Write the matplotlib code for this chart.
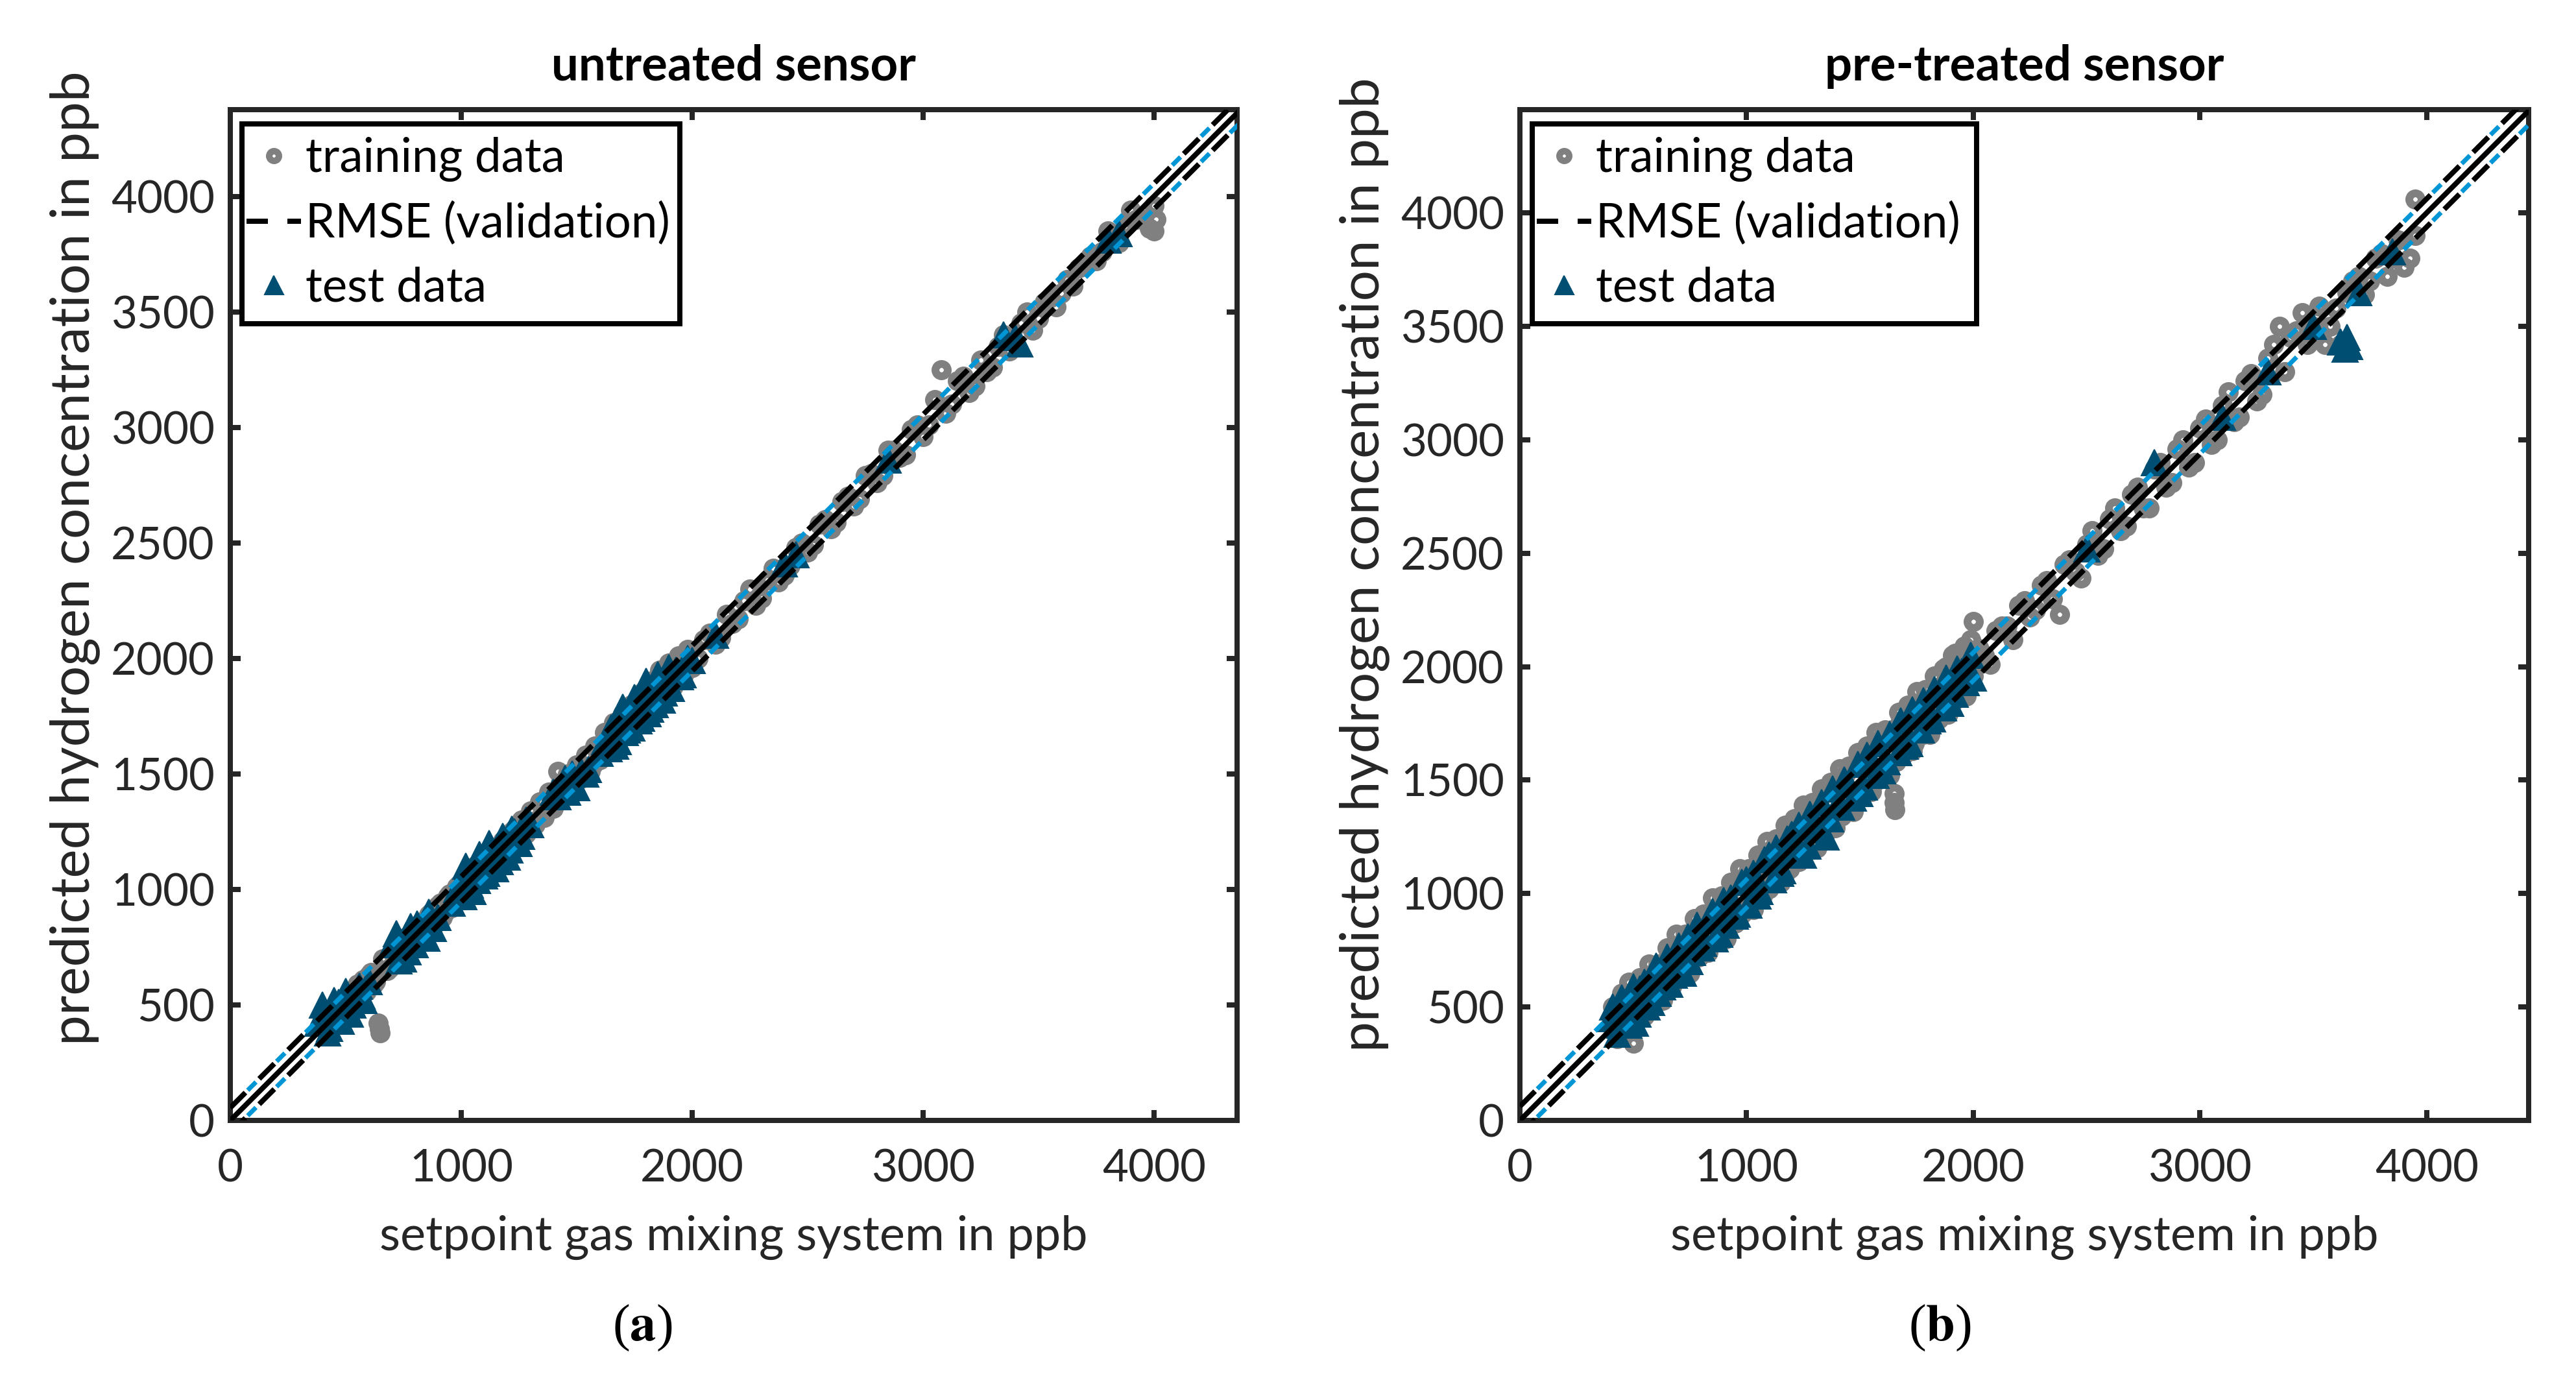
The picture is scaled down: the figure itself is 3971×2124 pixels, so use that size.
import matplotlib
matplotlib.use("Agg")
import matplotlib.pyplot as plt
from matplotlib.lines import Line2D
from matplotlib.patches import Rectangle

# ---------------- data ----------------
titles = ["untreated sensor", "pre-treated sensor"]
panel_tags = ["a", "b"]
xlabel_text = "setpoint gas mixing system in ppb"
ylabel_text = "predicted hydrogen concentration in ppb"
legend_labels = ["training data", "RMSE (validation)", "test data"]
xtick_vals = [0, 1000, 2000, 3000, 4000]
ytick_vals = [0, 500, 1000, 1500, 2000, 2500, 3000, 3500, 4000]
rmse_val = [55, 62]
x_max = [4360, 4450]
y_max = [4375, 4455]

# (a) untreated sensor
train_x_a = [400, 420, 440, 455, 470, 490, 505, 520, 540, 560,
             575, 590, 610, 630, 640, 645, 650, 660, 680, 700,
             720, 740, 760, 780, 800, 820, 840, 860, 880, 900,
             920, 940, 960, 980, 1000, 1020, 1040, 1060, 1080, 1100,
             1120, 1140, 1160, 1180, 1200, 1220, 1240, 1260, 1280, 1300,
             1320, 1340, 1360, 1380, 1400, 1420, 1440, 1460, 1480, 1500,
             1520, 1540, 1560, 1580, 1600, 1620, 1640, 1660, 1680, 1700,
             1720, 1740, 1760, 1780, 1800, 1820, 1840, 1860, 1880, 1900,
             1920, 1940, 1960, 1980, 2000, 2050, 2100, 2150, 2200, 2250,
             2300, 2350, 2400, 2450, 2500, 2550, 2600, 2650, 2700, 2750,
             2800, 2850, 2900, 2950, 3000, 3050, 3080, 3100, 3150, 3200,
             3250, 3300, 3350, 3400, 3450, 3500, 3550, 3600, 3700, 3750,
             3800, 3850, 3900, 3950, 3980, 4000, 4000, 4010]
train_y_a = [430, 390, 470, 420, 500, 460, 540, 480, 560, 520,
             610, 560, 640, 600, 420, 395, 380, 700, 650, 730,
             690, 770, 730, 810, 760, 850, 800, 890, 840, 930,
             880, 970, 920, 1010, 960, 1060, 1000, 1100, 1040, 1140,
             1080, 1180, 1130, 1210, 1160, 1250, 1190, 1300, 1240, 1340,
             1280, 1380, 1310, 1420, 1350, 1510, 1400, 1500, 1430, 1540,
             1480, 1580, 1510, 1620, 1560, 1680, 1600, 1720, 1640, 1760,
             1680, 1800, 1720, 1850, 1760, 1900, 1790, 1950, 1840, 1980,
             1880, 2010, 1920, 2040, 1960, 2080, 2060, 2190, 2170, 2300,
             2260, 2390, 2360, 2480, 2460, 2580, 2560, 2680, 2660, 2790,
             2760, 2900, 2870, 2990, 2960, 3120, 3250, 3060, 3200, 3150,
             3290, 3260, 3400, 3360, 3500, 3470, 3560, 3580, 3700, 3720,
             3850, 3800, 3940, 3900, 3860, 3960, 3850, 3900]
train_x_a2 = [410, 430, 450, 480, 500, 530, 550, 570, 600, 620,
              670, 690, 710, 730, 750, 770, 790, 810, 830, 850,
              870, 890, 910, 930, 950, 970, 990, 1010, 1030, 1050,
              1070, 1090, 1110, 1130, 1150, 1170, 1190, 1210, 1230, 1250,
              1270, 1290, 1310, 1330, 1350, 1370, 1390, 1410, 1430, 1450,
              1470, 1490, 1510, 1530, 1550, 1570, 1590, 1610, 1630, 1650,
              1670, 1690, 1710, 1730, 1750, 1770, 1790, 1810, 1830, 1850,
              1870, 1890, 1910, 1930, 1950, 1970, 1990,
              2025, 2075, 2125, 2175, 2225, 2275, 2325, 2375, 2425, 2475,
              2525, 2575, 2625, 2675, 2725, 2775, 2825, 2875, 2925, 2975,
              3025, 3125, 3175, 3225, 3275, 3325, 3375, 3425, 3475, 3525,
              3575, 3625, 3650, 3675, 3725, 3775, 3825, 3875, 3925]
train_y_a2 = [450, 400, 490, 460, 530, 500, 590, 540, 630, 590,
              700, 660, 740, 700, 790, 740, 820, 780, 860, 820,
              900, 860, 940, 900, 980, 940, 1020, 980, 1060, 1020,
              1100, 1060, 1140, 1100, 1180, 1140, 1220, 1180, 1260, 1220,
              1300, 1260, 1340, 1300, 1380, 1340, 1420, 1380, 1460, 1420,
              1500, 1460, 1540, 1500, 1580, 1540, 1620, 1580, 1660, 1620,
              1700, 1660, 1740, 1700, 1790, 1740, 1830, 1780, 1870, 1820,
              1910, 1860, 1950, 1900, 1990, 1940, 2030,
              2000, 2110, 2090, 2150, 2250, 2230, 2340, 2330, 2400, 2500,
              2490, 2600, 2590, 2700, 2690, 2800, 2790, 2900, 2880, 3010,
              3010, 3100, 3220, 3180, 3240, 3350, 3330, 3450, 3420, 3540,
              3520, 3640, 3610, 3690, 3740, 3760, 3830, 3870, 3900]
test_x_a = [400, 420, 450, 480, 500, 520, 550, 580, 720, 750,
            780, 800, 820, 850, 1000, 1020, 1050, 1080, 1100, 1120,
            1150, 1180, 1200, 1230, 1250, 1300, 1400, 1450, 1500, 1550,
            1600, 1650, 1680, 1700, 1720, 1750, 1780, 1800, 1820, 1850,
            1880, 1900, 1950, 2100, 2400, 2450, 2850, 3350, 3400, 3420,
            3800, 3850]
test_y_a = [500, 380, 520, 430, 560, 460, 540, 520, 810, 700,
            840, 760, 830, 790, 1010, 1100, 990, 1150, 1060, 1200,
            1090, 1230, 1140, 1250, 1200, 1280, 1420, 1480, 1440, 1520,
            1590, 1700, 1640, 1790, 1690, 1830, 1740, 1900, 1780, 1930,
            1850, 1960, 1920, 2100, 2410, 2450, 2860, 3400, 3390, 3360,
            3810, 3840]
test_x_a2 = [380, 410, 430, 440, 460, 470, 490, 510, 530, 560,
             570, 600, 700, 730, 760, 770, 790, 810, 830, 840,
             860, 880, 900, 960, 980, 1010, 1030, 1040, 1060, 1070,
             1090, 1110, 1130, 1140, 1160, 1170, 1190, 1210, 1220, 1240,
             1260, 1280, 1420, 1440, 1460, 1480, 1520, 1540, 1620, 1640,
             1660, 1670, 1690, 1710, 1730, 1740, 1760, 1770, 1790, 1810,
             1830, 1840, 1860, 1870, 1890, 1910, 1930, 1960, 1980, 2000]
test_y_a2 = [420, 460, 400, 480, 450, 510, 470, 530, 500, 580,
             540, 600, 760, 690, 800, 730, 770, 850, 790, 810,
             900, 830, 880, 940, 1000, 970, 1060, 1020, 1080, 1040,
             1110, 1070, 1160, 1100, 1190, 1120, 1210, 1170, 1260, 1210,
             1230, 1300, 1400, 1460, 1420, 1500, 1510, 1500, 1640, 1610,
             1690, 1620, 1720, 1680, 1770, 1700, 1800, 1730, 1820, 1760,
             1860, 1800, 1880, 1820, 1910, 1870, 1950, 1930, 2000, 1990]

# (b) pre-treated sensor
train_x_b = [400, 420, 440, 460, 470, 480, 500, 510, 520, 540,
             560, 580, 600, 620, 640, 660, 680, 700, 720, 740,
             760, 780, 800, 820, 840, 860, 880, 900, 920, 940,
             960, 980, 1000, 1020, 1040, 1060, 1080, 1100, 1120, 1140,
             1160, 1180, 1200, 1220, 1240, 1260, 1280, 1300, 1320, 1340,
             1360, 1380, 1400, 1420, 1440, 1460, 1480, 1500, 1520, 1540,
             1560, 1580, 1600, 1620, 1640, 1650, 1650, 1655, 1660, 1680,
             1700, 1720, 1740, 1760, 1780, 1800, 1820, 1840, 1860, 1880,
             1900, 1920, 1940, 1960, 1980, 2000, 2000, 2050, 2100, 2150,
             2200, 2250, 2300, 2350, 2380, 2400, 2450, 2500, 2550, 2600,
             2650, 2700, 2750, 2800, 2850, 2900, 2950, 3000, 3050, 3100,
             3150, 3200, 3250, 3300, 3350, 3400, 3450, 3500, 3550, 3600,
             3620, 3650, 3700, 3750, 3800, 3850, 3900, 3950, 3950]
train_y_b = [420, 500, 380, 560, 450, 610, 340, 520, 600, 470,
             610, 520, 660, 580, 700, 610, 740, 640, 790, 690,
             830, 720, 860, 770, 900, 790, 950, 840, 990, 880,
             1040, 910, 1080, 950, 1120, 990, 1160, 1020, 1200, 1060,
             1250, 1100, 1300, 1150, 1330, 1190, 1380, 1220, 1410, 1260,
             1450, 1300, 1490, 1340, 1530, 1390, 1570, 1420, 1610, 1460,
             1650, 1500, 1690, 1540, 1720, 1440, 1400, 1370, 1580, 1760,
             1620, 1800, 1660, 1840, 1700, 1900, 1740, 1950, 1790, 2000,
             1830, 2060, 1880, 2090, 1920, 2200, 1960, 2050, 2160, 2180,
             2270, 2220, 2360, 2300, 2230, 2450, 2420, 2540, 2490, 2650,
             2600, 2760, 2700, 2870, 2790, 2960, 2880, 3050, 2980, 3150,
             3080, 3260, 3170, 3360, 3500, 3450, 3560, 3500, 3420, 3580,
             3420, 3650, 3720, 3700, 3820, 3800, 3760, 4060, 3900]
train_x_b2 = [410, 430, 450, 490, 530, 550, 570, 590, 610, 630,
              650, 670, 690, 710, 730, 750, 770, 790, 810, 830,
              850, 870, 890, 910, 930, 950, 970, 990, 1010, 1030,
              1050, 1070, 1090, 1110, 1130, 1150, 1170, 1190, 1210, 1230,
              1250, 1270, 1290, 1310, 1330, 1350, 1370, 1390, 1410, 1430,
              1450, 1470, 1490, 1510, 1530, 1550, 1570, 1590, 1610, 1630,
              1670, 1690, 1710, 1730, 1750, 1770, 1790, 1810, 1830, 1850,
              1870, 1890, 1910, 1930, 1950, 1970, 1990,
              2025, 2075, 2125, 2175, 2225, 2275, 2325, 2425, 2475, 2525,
              2575, 2625, 2675, 2725, 2775, 2825, 2875, 2925, 2975, 3025,
              3075, 3125, 3175, 3225, 3275, 3325, 3375, 3425, 3475, 3525,
              3575, 3675, 3725, 3775, 3825, 3875, 3925]
train_y_b2 = [500, 360, 560, 430, 630, 460, 690, 540, 690, 530,
              760, 590, 820, 650, 820, 650, 890, 720, 910, 740,
              980, 810, 990, 800, 1050, 870, 1110, 920, 1110, 930,
              1170, 990, 1230, 1050, 1240, 1050, 1300, 1110, 1330, 1140,
              1390, 1200, 1400, 1200, 1460, 1270, 1490, 1290, 1550, 1360,
              1560, 1360, 1620, 1430, 1650, 1450, 1710, 1520, 1720, 1520,
              1800, 1610, 1830, 1630, 1890, 1700, 1900, 1700, 1960, 1770,
              1990, 1790, 2050, 1860, 2060, 1870, 2120,
              2080, 2010, 2180, 2120, 2290, 2250, 2380, 2470, 2390, 2600,
              2520, 2700, 2620, 2790, 2700, 2900, 2810, 3000, 2900, 3090,
              3000, 3210, 3100, 3290, 3200, 3420, 3300, 3480, 3420, 3590,
              3500, 3700, 3640, 3800, 3720, 3880, 3800]
test_x_b = [400, 430, 450, 480, 500, 520, 550, 580, 600, 630,
            650, 680, 700, 750, 780, 800, 850, 880, 900, 950,
            1000, 1050, 1100, 1150, 1200, 1250, 1300, 1350, 1400, 1450,
            1500, 1550, 1600, 1650, 1700, 1750, 1800, 1850, 1900, 1950,
            2000, 2500, 2800, 3100, 3300, 3500, 3620, 3640, 3650, 3660,
            3700, 3850]
test_y_b = [450, 380, 540, 420, 590, 470, 610, 520, 680, 590,
            720, 640, 770, 700, 860, 760, 920, 820, 970, 900,
            1060, 990, 1170, 1090, 1260, 1170, 1320, 1250, 1390, 1480,
            1440, 1590, 1540, 1700, 1650, 1780, 1760, 1880, 1840, 1980,
            1950, 2520, 2900, 3100, 3300, 3500, 3430, 3400, 3450, 3410,
            3650, 3830]
test_x_b2 = [410, 440, 460, 490, 510, 530, 560, 590, 610, 640,
             660, 690, 720, 740, 760, 790, 810, 830, 860, 890,
             910, 930, 960, 980, 1010, 1030, 1060, 1080, 1120, 1130,
             1160, 1180, 1220, 1230, 1270, 1280, 1320, 1330, 1370, 1380,
             1420, 1430, 1470, 1490, 1520, 1530, 1570, 1580, 1620, 1630,
             1670, 1680, 1720, 1730, 1770, 1780, 1820, 1830, 1870, 1880,
             1920, 1930, 1970, 1990]
test_y_b2 = [500, 420, 520, 560, 430, 580, 500, 630, 560, 690,
             600, 720, 650, 810, 740, 830, 780, 880, 800, 930,
             860, 980, 910, 1050, 950, 1090, 1010, 1150, 1060, 1200,
             1100, 1240, 1180, 1300, 1210, 1350, 1280, 1400, 1330, 1460,
             1380, 1500, 1420, 1570, 1470, 1610, 1520, 1660, 1580, 1700,
             1620, 1760, 1660, 1810, 1720, 1850, 1770, 1900, 1820, 1950,
             1880, 1990, 1930, 2050]

train_x = [train_x_a + train_x_a2, train_x_b + train_x_b2]
train_y = [train_y_a + train_y_a2, train_y_b + train_y_b2]
test_x = [test_x_a + test_x_a2, test_x_b + test_x_b2]
test_y = [test_y_a + test_y_a2, test_y_b + test_y_b2]

# ---------------- style ----------------
plt.rcParams['font.family'] = ['Lato', 'DejaVu Sans']
plt.rcParams['lines.scale_dashes'] = False
W, H, DPI = 3971, 2124, 100
P = 72.0 / DPI            # points per pixel
INK = '#262626'
GRAY = '#808080'
TEST_C = '#004F72'
BLUE = '#0096D6'

fig = plt.figure(figsize=(W / DPI, H / DPI), dpi=DPI)
renderer = fig.canvas.get_renderer()


def fit_size(text, target_px, **kw):
    t = fig.text(0, 0, text, fontsize=50, **kw)
    w = t.get_window_extent(renderer).width
    t.remove()
    return 50.0 * target_px / w


fs_tick = fit_size("1000", 160)
fs_xlabel = fit_size(xlabel_text, 1092)
fs_ylabel = fit_size(ylabel_text, 1500)
fs_title = fit_size(titles[0], 563, fontweight='bold')
fs_leg = fit_size(legend_labels[1], 562)

# axes boxes in pixels: left, top, right, bottom
boxes = [(355, 169, 1907, 1727), (2343, 169, 3898, 1727)]
leg_boxes = [(373, 191, 1048, 499), (2362, 191, 3047, 499)]
ylabel_cy = [860, 870]
tag_x = [990, 2990]

for i in range(2):
    l, t, r, b = boxes[i]
    ax = fig.add_axes([l / W, (H - b) / H, (r - l) / W, (b - t) / H])
    ax.set_xlim(0, x_max[i])
    ax.set_ylim(0, y_max[i])

    ax.plot(train_x[i], train_y[i], linestyle='none', marker='o',
            ms=19 * P, mfc='none', mec=GRAY, mew=12 * P, zorder=2)
    ax.plot(test_x[i], test_y[i], linestyle='none', marker='^',
            ms=40 * P, mfc=TEST_C, mec=TEST_C, mew=2 * P, zorder=3)

    xm = max(x_max[i], y_max[i])
    rm = rmse_val[i]
    for s in (1, -1):
        ax.plot([0, xm], [s * rm, xm + s * rm], color=BLUE, lw=7 * P,
                linestyle=(25 * P, (18 * P, 45 * P)), dash_capstyle='butt', zorder=4)
        ax.plot([0, xm], [s * rm, xm + s * rm], color='black', lw=8 * P,
                linestyle=(0, (33 * P, 30 * P)), dash_capstyle='butt', zorder=5)
    ax.plot([0, xm], [0, xm], color='black', lw=8 * P, zorder=5,
            solid_capstyle='butt')

    ax.set_xticks(xtick_vals)
    ax.set_yticks(ytick_vals)
    ax.set_xticklabels([str(v) for v in xtick_vals])
    ax.set_yticklabels([str(v) for v in ytick_vals])
    ax.tick_params(axis='both', which='both', direction='in', length=16 * P,
                   width=8 * P, colors=INK, labelsize=fs_tick,
                   top=True, right=True)
    ax.tick_params(axis='x', pad=44 * P)
    ax.tick_params(axis='y', pad=24 * P)
    for sp in ax.spines.values():
        sp.set_linewidth(8 * P)
        sp.set_color(INK)

    # legend: frame drawn as a rectangle, content placed inside
    ll, lt, lr, lb = leg_boxes[i]
    frame = Rectangle(((ll - l) / (r - l), (b - lb) / (b - t)),
                      (lr - ll) / (r - l), (lb - lt) / (b - t),
                      transform=ax.transAxes, facecolor='white',
                      edgecolor='black', lw=8 * P, zorder=8, clip_on=False)
    ax.add_patch(frame)
    handles = [
        Line2D([], [], linestyle='none', marker='o', ms=15 * P, mfc='none',
               mec=GRAY, mew=10 * P),
        Line2D([], [], color='black', lw=8 * P,
               linestyle=(0, (33 * P, 30 * P)), dash_capstyle='butt'),
        Line2D([], [], linestyle='none', marker='^', ms=29 * P, mfc=TEST_C,
               mec=TEST_C, mew=2 * P),
    ]
    fpx = fs_leg / P
    leg = ax.legend(handles, legend_labels, loc='upper left',
                    bbox_to_anchor=((ll + 7 - l) / (r - l), (b - lt - 20) / (b - t)),
                    borderaxespad=0, fontsize=fs_leg, frameon=False,
                    handlelength=84 / fpx, handletextpad=7 / fpx,
                    borderpad=0, labelspacing=31 / fpx, numpoints=1)
    leg.set_zorder(9)
    for txt in leg.get_texts():
        txt.set_color('black')

    cx = (l + r) / 2
    fig.text(cx / W, 1 - 124 / H, titles[i], ha='center', va='baseline',
             fontsize=fs_title, fontweight='bold', color='black')
    fig.text(cx / W, 1 - 1927 / H, xlabel_text, ha='center', va='baseline',
             fontsize=fs_xlabel, color=INK)
    fig.text((l - 240) / W, 1 - ylabel_cy[i] / H, ylabel_text,
             ha='center', va='center', rotation=90, fontsize=fs_ylabel, color=INK)
    fig.text(tag_x[i] / W, 1 - 2066 / H, r'($\mathbf{%s}$)' % panel_tags[i],
             ha='center', va='baseline', fontsize=58, family='Liberation Serif',
             math_fontfamily='stix', color='black')

fig.savefig('out.png', dpi=DPI, facecolor='white')
